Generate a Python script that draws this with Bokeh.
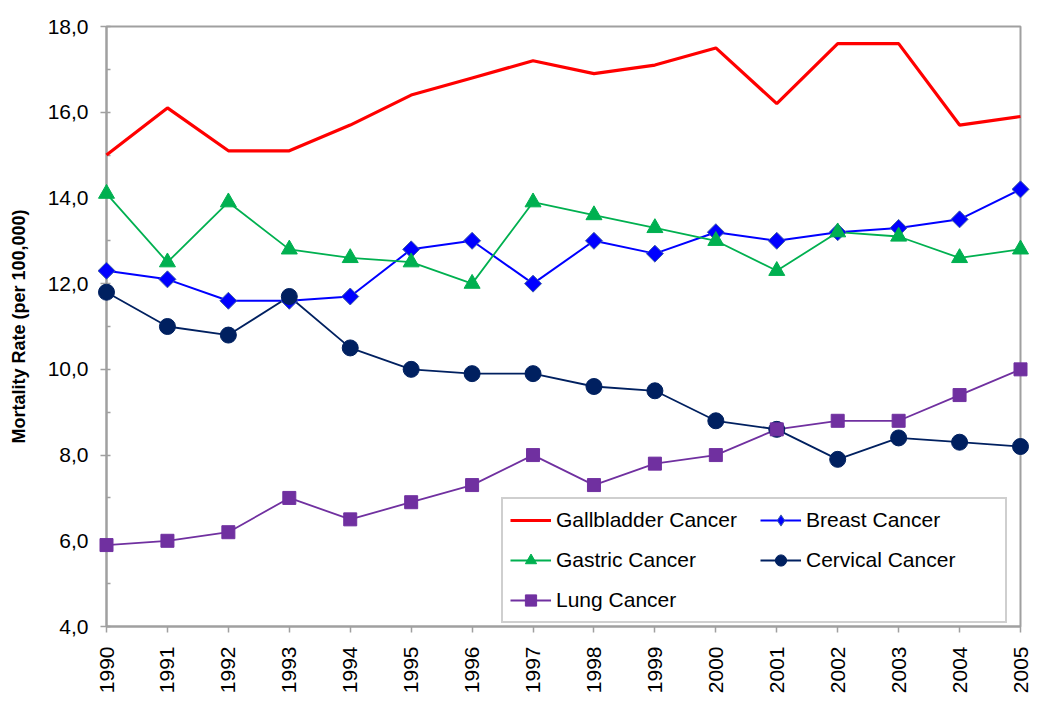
import math
from bokeh.plotting import figure
from bokeh.models import (ColumnDataSource, Legend, LegendItem, FixedTicker,
                          CustomJSTickFormatter, Range1d)
from bokeh.embed import file_html
from bokeh.resources import INLINE

years = list(range(1990, 2006))
gallbladder = [15.0, 16.1, 15.1, 15.1, 15.7, 16.4, 16.8, 17.2, 16.9, 17.1, 17.5, 16.2, 17.6, 17.6, 15.7, 15.9]
breast = [12.3, 12.1, 11.6, 11.6, 11.7, 12.8, 13.0, 12.0, 13.0, 12.7, 13.2, 13.0, 13.2, 13.3, 13.5, 14.2]
gastric = [14.1, 12.5, 13.9, 12.8, 12.6, 12.5, 12.0, 13.9, 13.6, 13.3, 13.0, 12.3, 13.2, 13.1, 12.6, 12.8]
cervical = [11.8, 11.0, 10.8, 11.7, 10.5, 10.0, 9.9, 9.9, 9.6, 9.5, 8.8, 8.6, 7.9, 8.4, 8.3, 8.2]
lung = [5.9, 6.0, 6.2, 7.0, 6.5, 6.9, 7.3, 8.0, 7.3, 7.8, 8.0, 8.6, 8.8, 8.8, 9.4, 10.0]
y_ticks = [4, 6, 8, 10, 12, 14, 16, 18]

src = ColumnDataSource(dict(year=years, gallbladder=gallbladder, breast=breast,
                            gastric=gastric, cervical=cervical, lung=lung))

FONT = "Liberation Sans"
GRAY = "#A0A0A0"

p = figure(width=1044, height=696, output_backend="svg", toolbar_location=None,
           x_range=Range1d(1990, 2005), y_range=Range1d(4, 18),
           min_border_left=106, min_border_right=24, min_border_top=26, min_border_bottom=70)
p.background_fill_color = "white"
p.border_fill_color = "white"
p.outline_line_color = GRAY
p.outline_line_width = 2
p.xgrid.visible = False
p.ygrid.visible = False

# lines
r_gb = p.line("year", "gallbladder", source=src, line_color="#FF0000", line_width=3.2, level="overlay")
r_br_l = p.line("year", "breast", source=src, line_color="#0000FF", line_width=2, level="overlay")
r_ga_l = p.line("year", "gastric", source=src, line_color="#00B050", line_width=1.8, level="overlay")
r_ce_l = p.line("year", "cervical", source=src, line_color="#002060", line_width=1.8, level="overlay")
r_lu_l = p.line("year", "lung", source=src, line_color="#7030A0", line_width=1.8, level="overlay")

# breast diamond used for the legend symbol (hidden beneath the rotated squares)
r_br_leg = p.scatter("year", "breast", source=src, marker="diamond", size=12,
                     fill_color="#0000FF", line_color="#3F5FA8", line_width=1, level="overlay")
# markers
r_br_m = p.scatter("year", "breast", source=src, marker="square", angle=math.pi / 4, size=12,
                   fill_color="#0000FF", line_color="#3F5FA8", line_width=1, level="overlay")
r_ga_m = p.scatter("year", "gastric", source=src, marker="triangle", size=16,
                   fill_color="#00B050", line_color="#00B050", level="overlay")
r_ce_m = p.scatter("year", "cervical", source=src, marker="circle", size=16,
                   fill_color="#002060", line_color="#002060", level="overlay")
r_lu_m = p.scatter("year", "lung", source=src, marker="square", size=13,
                   fill_color="#7030A0", line_color="#7030A0", level="overlay")

# axes
xa = p.xaxis[0]
xa.ticker = FixedTicker(ticks=years)
xa.major_label_orientation = math.pi / 2
xa.major_label_text_font = FONT
xa.major_label_text_font_size = "21px"
xa.major_label_text_color = "black"
xa.axis_line_color = GRAY
xa.axis_line_width = 2
xa.major_tick_line_color = GRAY
xa.major_tick_line_width = 1.5
xa.major_tick_out = 6
xa.major_tick_in = 0
xa.minor_tick_line_color = None
xa.major_label_standoff = 14

ya = p.yaxis[0]
ya.ticker = FixedTicker(ticks=y_ticks, minor_ticks=[5, 7, 9, 11, 13, 15, 17])
ya.formatter = CustomJSTickFormatter(code="return tick.toFixed(1).replace('.', ',');")
ya.major_label_text_font = FONT
ya.major_label_text_font_size = "21px"
ya.major_label_text_color = "black"
ya.axis_line_color = GRAY
ya.axis_line_width = 2
ya.major_tick_line_color = GRAY
ya.major_tick_line_width = 1.5
ya.major_tick_out = 6
ya.major_tick_in = 4
ya.minor_tick_line_color = GRAY
ya.minor_tick_line_width = 1.5
ya.minor_tick_in = 4
ya.minor_tick_out = 0
ya.major_label_standoff = 12
ya.axis_label = "Mortality Rate (per 100,000)"
ya.axis_label_text_font = FONT
ya.axis_label_text_font_size = "18px"
ya.axis_label_text_font_style = "bold"
ya.axis_label_text_color = "black"
ya.axis_label_standoff = 16

legend = Legend(items=[
    LegendItem(label="Gallbladder Cancer", renderers=[r_gb]),
    LegendItem(label="Breast Cancer", renderers=[r_br_l, r_br_leg]),
    LegendItem(label="Gastric Cancer", renderers=[r_ga_l, r_ga_m]),
    LegendItem(label="Cervical Cancer", renderers=[r_ce_l, r_ce_m]),
    LegendItem(label="Lung Cancer", renderers=[r_lu_l, r_lu_m]),
], location=(395, 3), orientation="horizontal", ncols=2)
legend.label_text_font = FONT
legend.label_text_font_size = "21px"
legend.label_text_color = "black"
legend.border_line_color = GRAY
legend.border_line_width = 2
legend.background_fill_color = "white"
legend.background_fill_alpha = 1
legend.padding = 7
legend.spacing = 12
legend.glyph_width = 41
legend.glyph_height = 28
legend.label_standoff = 5
legend.label_width = 192
legend.label_height = 28
legend.margin = 0
p.add_layout(legend, "center")

open("out.html", "w").write(file_html(p, INLINE))
